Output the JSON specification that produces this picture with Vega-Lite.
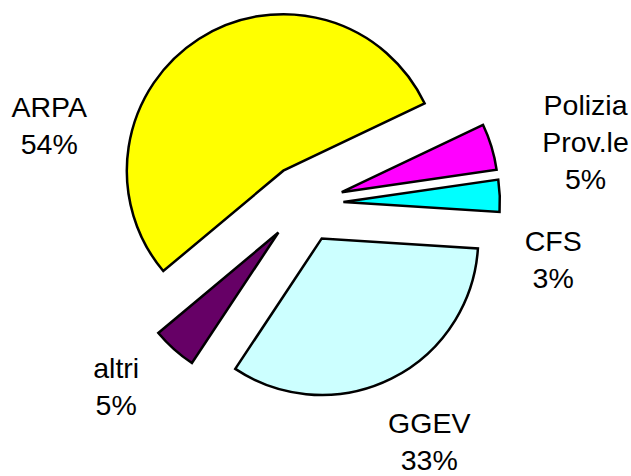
{
  "$schema": "https://vega.github.io/schema/vega-lite/v6.json",
  "width": 631,
  "height": 476,
  "padding": 0,
  "autosize": {"type": "none"},
  "background": "#ffffff",
  "config": {"view": {"stroke": null}},
  "data": {
    "values": [
      {"name": "ARPA", "value": 54.0, "order": 1},
      {"name": "Polizia\nProv.le", "value": 4.8, "order": 2},
      {"name": "CFS", "value": 3.3, "order": 3},
      {"name": "GGEV", "value": 33.3, "order": 4},
      {"name": "altri", "value": 4.6, "order": 5}
    ]
  },
  "transform": [
    {"joinaggregate": [{"op": "sum", "field": "value", "as": "total"}]},
    {"window": [{"op": "sum", "field": "value", "as": "cum"}], "sort": [{"field": "order"}], "frame": [null, 0]},
    {"calculate": "datum.cum - datum.value", "as": "start"},
    {"calculate": "4.016 + 2 * PI * (datum.start + datum.value / 2) / datum.total", "as": "mid"},
    {"calculate": "39 * sin(datum.mid)", "as": "ox"},
    {"calculate": "39 * cos(datum.mid)", "as": "oy"},
    {"calculate": "265 * sin(datum.mid)", "as": "lx"},
    {"calculate": "265 * cos(datum.mid)", "as": "ly"},
    {"calculate": "datum.name + '\\n' + format(datum.value / datum.total * 100, '.0f') + '%'", "as": "label"}
  ],
  "layer": [
    {
      "mark": {"type": "arc", "outerRadius": 156.5, "stroke": "#000000", "strokeWidth": 2.5, "strokeJoin": "miter"},
      "encoding": {
        "x": {"field": "ox", "type": "quantitative", "scale": {"domain": [-304.4, 326.6], "zero": false, "nice": false}, "axis": null},
        "y": {"field": "oy", "type": "quantitative", "scale": {"domain": [-272.5, 203.5], "zero": false, "nice": false}, "axis": null},
        "theta": {"field": "start", "type": "quantitative", "stack": null, "scale": {"domain": [0, 100], "range": [4.016, 10.2992]}},
        "theta2": {"field": "cum"},
        "color": {
          "field": "name",
          "type": "nominal",
          "legend": null,
          "scale": {
            "domain": ["ARPA", "Polizia\nProv.le", "CFS", "GGEV", "altri"],
            "range": ["#ffff00", "#ff00ff", "#00ffff", "#ccffff", "#660066"]
          }
        }
      }
    },
    {
      "mark": {
        "type": "text",
        "font": "Liberation Sans",
        "fontSize": 28.5,
        "lineHeight": 37,
        "lineBreak": "\n",
        "color": "#000000",
        "align": "center",
        "baseline": "alphabetic",
        "dx": {"expr": "[-112, 27.5, -16, 7, -11.5][datum.order - 1]"},
        "dy": {"expr": "[136, -11.5, 58, -8, -22.5][datum.order - 1]"}
      },
      "encoding": {
        "x": {"field": "lx", "type": "quantitative", "axis": null},
        "y": {"field": "ly", "type": "quantitative", "axis": null},
        "text": {"field": "label"}
      }
    }
  ]
}
